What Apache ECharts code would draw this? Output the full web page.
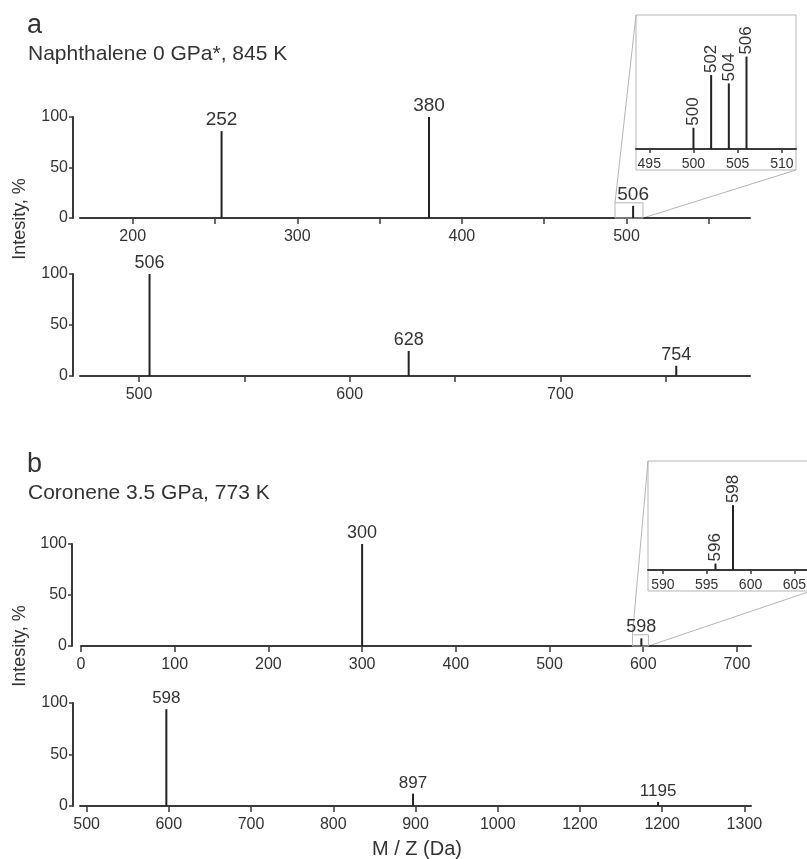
<!DOCTYPE html>
<html><head><meta charset="utf-8">
<script src="https://cdn.jsdelivr.net/npm/echarts@6/dist/echarts.min.js"></script>
<style>html,body{margin:0;padding:0;background:#fff}#c{width:807px;height:859px}</style>
</head><body><div id="c"></div>
<script>
const FONT = '"Liberation Sans", Arial, Helvetica, sans-serif';
const TXT = '#333';
const AX = '#3a3a3a';

// ---- Panel a: Naphthalene ----
const a1Pos = [254, 380, 504];
const a1Val = [86, 100, 12];
const a1Lab = ['252', '380', '506'];
const a1Ticks = [200, 250, 300, 350, 400, 450, 500, 550];
const a1TickLabels = [200, 300, 400, 500];

const a2Pos = [505, 628, 755];
const a2Val = [100, 24.5, 10];
const a2Lab = ['506', '628', '754'];
const a2Ticks = [500, 550, 600, 650, 700, 750];
const a2TickLabels = [500, 600, 700];

const aInsetPos = [500, 502, 504, 506];
const aInsetVal = [23, 80, 71, 100];
const aInsetLab = ['500', '502', '504', '506'];
const aInsetTicks = [495, 500, 505, 510];
const aZoomBox = [493, 510, 15];

// ---- Panel b: Coronene ----
const b1Pos = [300, 598];
const b1Val = [100, 7.5];
const b1Lab = ['300', '598'];
const b1Ticks = [0, 100, 200, 300, 400, 500, 600, 700];

const b2Pos = [597, 897, 1195];
const b2Val = [94, 12, 4];
const b2Lab = ['598', '897', '1195'];
const b2Ticks = [500, 600, 700, 800, 900, 1000, 1100, 1200, 1300];
const b2TickLabels = ['500', '600', '700', '800', '900', '1000', '1200', '1200', '1300'];

const bInsetPos = [596, 598];
const bInsetVal = [10, 100];
const bInsetLab = ['596', '598'];
const bInsetTicks = [590, 595, 600, 605];
const bZoomBox = [588.5, 605.5, 11];

const yTicks = [0, 50, 100];

const grids = [
  {left: 80, top: 117, width: 670, height: 101},
  {left: 80, top: 274, width: 670, height: 102},
  {left: 81, top: 544, width: 670, height: 102},
  {left: 80, top: 703, width: 671, height: 103},
  {left: 636, top: 15, width: 160, height: 134},
  {left: 648, top: 461, width: 163, height: 109}
].map(g => Object.assign({outerBoundsMode: 'none', containLabel: false}, g));

const xRanges = [[168, 575], [472, 790], [0, 715], [492, 1308], [493.5, 511.6], [588.3, 606.9]];
const xTickSets = [a1Ticks, a2Ticks, b1Ticks, b2Ticks, aInsetTicks, bInsetTicks];
const xLabelSets = [a1TickLabels, a2TickLabels, b1Ticks, b2Ticks, aInsetTicks, bInsetTicks];

const xAxes = xRanges.map((r, i) => {
  const inset = i >= 4;
  return {
    type: 'value', gridIndex: i, min: r[0], max: r[1],
    axisLine: {show: true, onZero: false, lineStyle: {color: AX, width: 2}},
    axisTick: {show: true, customValues: xTickSets[i], length: inset ? 4 : 6, lineStyle: {color: AX, width: 1.5}},
    axisLabel: {
      show: true, customValues: xLabelSets[i], margin: inset ? 8 : 11,
      color: TXT, fontSize: inset ? 14 : 16, fontFamily: FONT,
      formatter: i === 3 ? (v) => b2TickLabels[b2Ticks.indexOf(v)] : (v) => String(v)
    },
    splitLine: {show: false}
  };
});

const yAxes = [0, 1, 2, 3, 4, 5].map(i => {
  if (i >= 4) {
    return {type: 'value', gridIndex: i, min: 0, max: i === 4 ? 145 : 168, show: false};
  }
  return {
    type: 'value', gridIndex: i, min: 0, max: 100, interval: 50, offset: i === 2 ? 9 : 7,
    axisLine: {show: true, onZero: false, lineStyle: {color: AX, width: 2}},
    axisTick: {show: true, customValues: yTicks, length: 4, lineStyle: {color: AX, width: 1.5}},
    axisLabel: {show: true, customValues: yTicks, margin: 5, color: TXT, fontSize: 16, fontFamily: FONT},
    splitLine: {show: false}
  };
});

function stemRender(labels, fontSize, rotate) {
  return function (params, api) {
    const x = api.value(0), y = api.value(1);
    const p0 = api.coord([x, 0]);
    const p1 = api.coord([x, y]);
    const lab = labels[params.dataIndex];
    const text = rotate
      ? {type: 'text', x: p1[0], y: p1[1] - 2, rotation: Math.PI / 2,
         style: {text: lab, fontSize: fontSize, fontFamily: FONT, fill: TXT, align: 'left', verticalAlign: 'middle'}}
      : {type: 'text', x: p1[0], y: p1[1] - 2,
         style: {text: lab, fontSize: fontSize, fontFamily: FONT, fill: TXT, align: 'center', verticalAlign: 'bottom'}};
    return {type: 'group', children: [
      {type: 'line', shape: {x1: p0[0], y1: p0[1], x2: p1[0], y2: p1[1]}, style: {stroke: '#222', lineWidth: 2}},
      text
    ]};
  };
}

function stemSeries(idx, pos, val, labels, fontSize, rotate) {
  return {
    type: 'custom', xAxisIndex: idx, yAxisIndex: idx, clip: false,
    encode: {x: 0, y: 1},
    data: pos.map((p, k) => [p, val[k]]),
    renderItem: stemRender(labels, fontSize, rotate),
    silent: true, animation: false
  };
}

function boxSeries(idx, box) {
  return {
    type: 'custom', xAxisIndex: idx, yAxisIndex: idx, clip: false,
    data: [box], silent: true, animation: false,
    renderItem: function (params, api) {
      const p0 = api.coord([api.value(0), api.value(2)]);
      const p1 = api.coord([api.value(1), 0]);
      return {type: 'rect', shape: {x: p0[0], y: p0[1], width: p1[0] - p0[0], height: p1[1] - p0[1]},
              style: {stroke: '#b5b5b5', fill: 'none', lineWidth: 1}, z2: -1};
    }
  };
}

const chart = echarts.init(document.getElementById('c'), null, {renderer: 'canvas'});
chart.setOption({
  animation: false,
  backgroundColor: '#fff',
  grid: grids,
  xAxis: xAxes,
  yAxis: yAxes,
  series: [
    stemSeries(0, a1Pos, a1Val, a1Lab, 19, false),
    stemSeries(1, a2Pos, a2Val, a2Lab, 18, false),
    stemSeries(2, b1Pos, b1Val, b1Lab, 18, false),
    stemSeries(3, b2Pos, b2Val, b2Lab, 17, false),
    stemSeries(4, aInsetPos, aInsetVal, aInsetLab, 17, true),
    stemSeries(5, bInsetPos, bInsetVal, bInsetLab, 17, true),
    boxSeries(0, aZoomBox),
    boxSeries(2, bZoomBox)
  ]
});

// Inset frames and connector lines derived from axes
function insetDecor(mainIdx, insetIdx, box) {
  const xr = xRanges[insetIdx];
  const ymax = yAxes[insetIdx].max;
  const tl = chart.convertToPixel({gridIndex: insetIdx}, [xr[0], ymax]);
  const br0 = chart.convertToPixel({gridIndex: insetIdx}, [xr[1], 0]);
  const br = [br0[0], br0[1] + 21];
  const sTL = chart.convertToPixel({gridIndex: mainIdx}, [box[0], box[2]]);
  const sBR = chart.convertToPixel({gridIndex: mainIdx}, [box[1], 0]);
  const st = {stroke: '#b5b5b5', lineWidth: 1, fill: 'none'};
  return [
    {type: 'rect', shape: {x: tl[0], y: tl[1], width: br[0] - tl[0], height: br[1] - tl[1]}, style: st, silent: true},
    {type: 'line', shape: {x1: sTL[0], y1: sTL[1], x2: tl[0], y2: tl[1]}, style: st, silent: true},
    {type: 'line', shape: {x1: sBR[0], y1: sBR[1], x2: br[0], y2: br[1]}, style: st, silent: true}
  ];
}

const txt = (x, y, text, size, extra) => Object.assign({
  type: 'text', x: x, y: y, silent: true,
  style: {text: text, fontSize: size, fontFamily: FONT, fill: TXT, align: 'left', verticalAlign: 'middle'}
}, extra || {});

const decor = [].concat(
  insetDecor(0, 4, aZoomBox),
  insetDecor(2, 5, bZoomBox),
  [
    txt(27, 26, 'a', 27),
    txt(28, 54, 'Naphthalene 0 GPa*, 845 K', 21),
    txt(27, 465, 'b', 27),
    txt(28, 493, 'Coronene 3.5 GPa, 773 K', 21),
    {type: 'text', x: 20, y: 219, rotation: Math.PI / 2, silent: true,
     style: {text: 'Intesity, %', fontSize: 18, fontFamily: FONT, fill: TXT, align: 'center', verticalAlign: 'middle'}},
    {type: 'text', x: 20, y: 646, rotation: Math.PI / 2, silent: true,
     style: {text: 'Intesity, %', fontSize: 18, fontFamily: FONT, fill: TXT, align: 'center', verticalAlign: 'middle'}},
    {type: 'text', x: 417, y: 849, silent: true,
     style: {text: 'M / Z (Da)', fontSize: 20, fontFamily: FONT, fill: TXT, align: 'center', verticalAlign: 'middle'}}
  ]
);
chart.setOption({graphic: decor});
</script>
</body></html>
